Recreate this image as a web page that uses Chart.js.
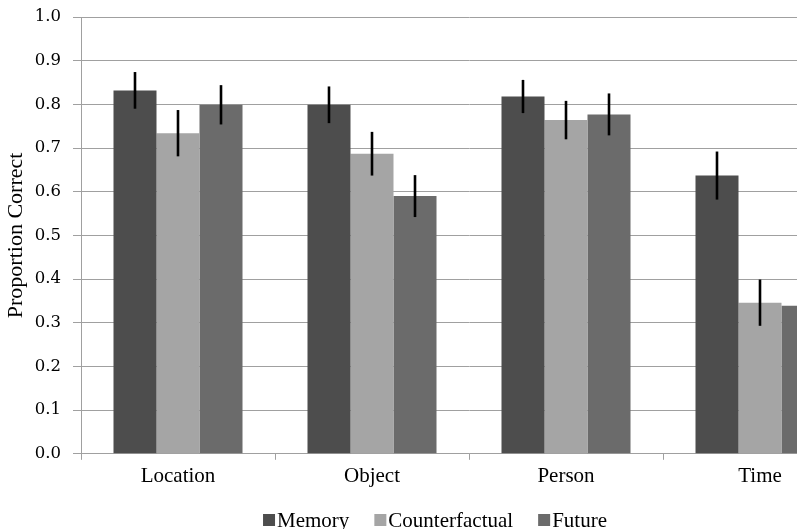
<!DOCTYPE html>
<html>
<head>
<meta charset="utf-8">
<script src="https://cdn.jsdelivr.net/npm/chart.js@4/dist/chart.umd.min.js"></script>
<style>
html,body{margin:0;padding:0;background:#fff;overflow:hidden;width:797px;height:529px;}
#wrap{width:870px;height:529px;}
</style>
</head>
<body>
<div id="wrap"><canvas id="c" width="870" height="529"></canvas></div>
<script>
const categories = ['Location', 'Object', 'Person', 'Time'];
const memory = [0.832, 0.799, 0.818, 0.637];
const counterfactual = [0.734, 0.687, 0.764, 0.346];
const future = [0.799, 0.590, 0.777, 0.339];
const memoryErr = [0.042, 0.042, 0.038, 0.055];
const counterfactualErr = [0.053, 0.050, 0.044, 0.053];
const futureErr = [0.045, 0.048, 0.048, 0.050];
const yTicks = [0.0, 0.1, 0.2, 0.3, 0.4, 0.5, 0.6, 0.7, 0.8, 0.9, 1.0];

const errs = [memoryErr, counterfactualErr, futureErr];
const serif = '"Liberation Serif", "Times New Roman", serif';

const errorBars = {
  id: 'errorBars',
  afterDatasetsDraw(chart) {
    const ctx = chart.ctx;
    const ys = chart.scales.y;
    ctx.save();
    ctx.strokeStyle = '#000';
    ctx.lineWidth = 2.6;
    chart.data.datasets.forEach((ds, i) => {
      const meta = chart.getDatasetMeta(i);
      meta.data.forEach((el, j) => {
        const v = ds.data[j], e = errs[i][j];
        ctx.beginPath();
        ctx.moveTo(el.x, ys.getPixelForValue(v + e));
        ctx.lineTo(el.x, ys.getPixelForValue(v - e));
        ctx.stroke();
      });
    });
    ctx.restore();
  }
};

// Legend drawn on the chart canvas from the datasets (box immediately followed by text)
const tightLegend = {
  id: 'tightLegend',
  afterDraw(chart) {
    const ctx = chart.ctx;
    const box = 12, boxGap = 2, itemGap = 25;
    const baseline = 527;
    ctx.save();
    ctx.font = '21px ' + serif;
    ctx.textBaseline = 'alphabetic';
    const items = chart.data.datasets.map(ds => ({
      text: ds.label, color: ds.backgroundColor, w: ctx.measureText(ds.label).width
    }));
    const total = items.reduce((s, it) => s + box + boxGap + it.w, 0) + itemGap * (items.length - 1);
    let x = chart.width / 2 - total / 2;
    items.forEach(it => {
      ctx.fillStyle = it.color;
      ctx.fillRect(x, baseline - box - 1, box, box);
      x += box + boxGap;
      ctx.fillStyle = '#000';
      ctx.fillText(it.text, x, baseline);
      x += it.w + itemGap;
    });
    ctx.restore();
  }
};

new Chart(document.getElementById('c'), {
  type: 'bar',
  data: {
    labels: categories,
    datasets: [
      { label: 'Memory', data: memory, backgroundColor: '#4d4d4d' },
      { label: 'Counterfactual', data: counterfactual, backgroundColor: '#a5a5a5' },
      { label: 'Future', data: future, backgroundColor: '#6b6b6b' }
    ]
  },
  options: {
    responsive: false,
    animation: false,
    layout: { autoPadding: false, padding: { top: 17, right: 13, left: 2, bottom: 36 } },
    datasets: { bar: { categoryPercentage: 0.665, barPercentage: 1.0, borderWidth: 0 } },
    plugins: {
      tooltip: { enabled: false },
      legend: { display: false }
    },
    scales: {
      x: {
        grid: { drawOnChartArea: false, drawTicks: true, tickLength: 6, color: '#a0a0a0', offset: true },
        border: { color: '#a0a0a0' },
        ticks: { font: { family: serif, size: 21 }, color: '#000', padding: 4 }
      },
      y: {
        min: 0, max: 1,
        afterBuildTicks(axis) { axis.ticks = yTicks.map(v => ({ value: v })); },
        afterFit(axis) { axis.width = 79; axis.paddingTop = 0; },
        grid: { color: '#a0a0a0', tickLength: 8 },
        border: { color: '#a0a0a0' },
        ticks: {
          font: { family: '"DejaVu Serif", serif', size: 16.5 },
          color: '#000',
          padding: 12,
          callback: v => Number(v).toFixed(1)
        },
        title: {
          display: true,
          text: 'Proportion Correct',
          font: { family: serif, size: 22 },
          color: '#000',
          padding: { top: 1, bottom: 0 }
        }
      }
    }
  },
  plugins: [errorBars, tightLegend]
});
</script>
</body>
</html>
